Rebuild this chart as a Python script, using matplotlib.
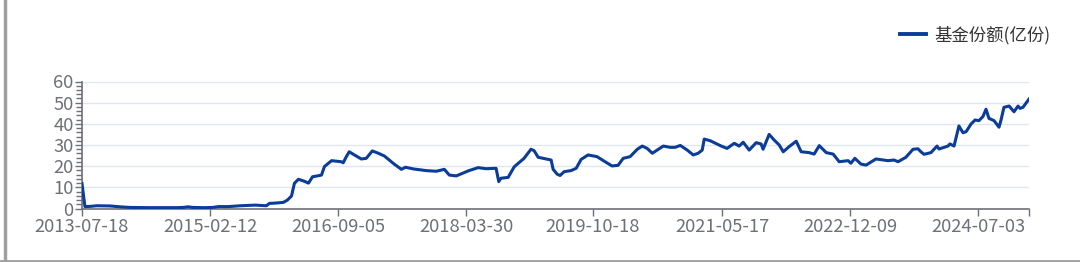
import matplotlib
matplotlib.use("Agg")
import matplotlib.pyplot as plt
import matplotlib.dates as mdates
from matplotlib.lines import Line2D
from matplotlib.ticker import MultipleLocator, FixedLocator
import pandas as pd

plt.rcParams['font.family'] = ['Noto Sans CJK SC', 'DejaVu Sans']

series_name = "基金份额(亿份)"

dates = [
    "2013-07-18", "2013-07-31", "2013-08-23", "2013-09-23", "2013-11-20", "2014-01-04",
    "2014-02-18", "2014-05-18", "2014-09-07", "2014-10-12", "2014-11-04", "2014-11-26",
    "2015-01-19", "2015-02-21", "2015-03-20", "2015-05-03", "2015-06-26", "2015-09-01",
    "2015-10-20", "2015-11-02", "2015-12-04", "2016-01-04", "2016-01-22", "2016-02-09",
    "2016-02-22", "2016-03-11", "2016-04-03", "2016-04-25", "2016-05-13", "2016-06-04",
    "2016-06-22", "2016-07-05", "2016-08-06", "2016-09-18", "2016-09-27", "2016-10-11",
    "2016-10-24", "2016-11-16", "2016-12-17", "2017-01-08", "2017-02-04", "2017-03-03",
    "2017-03-30", "2017-05-09", "2017-06-14", "2017-07-02", "2017-08-06", "2017-10-03",
    "2017-11-17", "2017-12-23", "2018-01-14", "2018-02-14", "2018-04-12", "2018-05-23",
    "2018-06-27", "2018-08-11", "2018-08-23", "2018-09-02", "2018-10-04", "2018-10-31",
    "2018-12-14", "2019-01-14", "2019-01-28", "2019-02-15", "2019-03-09", "2019-04-14",
    "2019-04-23", "2019-05-11", "2019-05-24", "2019-06-11", "2019-07-12", "2019-08-04",
    "2019-08-26", "2019-09-26", "2019-11-05", "2019-12-11", "2020-01-11", "2020-02-07",
    "2020-03-01", "2020-04-01", "2020-05-03", "2020-05-25", "2020-06-16", "2020-07-09",
    "2020-07-31", "2020-08-27", "2020-09-27", "2020-10-19", "2020-11-11", "2020-12-12",
    "2021-01-08", "2021-01-30", "2021-02-17", "2021-02-26", "2021-03-25", "2021-05-13",
    "2021-06-08", "2021-07-10", "2021-08-01", "2021-08-19", "2021-09-15", "2021-10-16",
    "2021-11-07", "2021-11-16", "2021-12-13", "2022-01-04", "2022-01-27", "2022-02-14",
    "2022-03-12", "2022-04-13", "2022-05-05", "2022-06-10", "2022-07-02", "2022-07-25",
    "2022-08-25", "2022-09-25", "2022-10-22", "2022-12-01", "2022-12-13", "2022-12-31",
    "2023-01-27", "2023-02-19", "2023-04-04", "2023-05-28", "2023-06-24", "2023-07-12",
    "2023-08-16", "2023-09-17", "2023-10-09", "2023-10-22", "2023-11-05", "2023-12-06",
    "2024-01-02", "2024-01-11", "2024-02-20", "2024-02-29", "2024-03-18", "2024-04-09",
    "2024-04-27", "2024-05-11", "2024-06-02", "2024-06-20", "2024-07-07", "2024-07-25",
    "2024-08-08", "2024-08-21", "2024-09-13", "2024-10-05", "2024-10-14", "2024-10-27",
    "2024-11-19", "2024-12-11", "2024-12-29", "2025-01-07", "2025-01-20", "2025-02-16",
]

shares = [
    11.8, 0.9, 1.0, 1.3, 1.2, 0.8,
    0.5, 0.4, 0.4, 0.5, 0.8, 0.5,
    0.4, 0.5, 0.9, 0.9, 1.3, 1.6,
    1.3, 2.4, 2.6, 2.9, 4.0, 5.9,
    11.9, 13.8, 13.0, 12.0, 15.0, 15.4,
    15.8, 19.8, 22.6, 22.1, 21.6, 24.5,
    26.8, 25.3, 23.4, 23.7, 27.2, 26.1,
    24.8, 21.3, 18.5, 19.5, 18.7, 17.9,
    17.6, 18.5, 15.8, 15.4, 17.9, 19.3,
    18.8, 19.0, 12.7, 14.3, 14.7, 19.7,
    23.7, 28.0, 27.3, 24.2, 23.7, 22.9,
    18.5, 16.2, 15.6, 17.4, 17.9, 19.0,
    23.2, 25.3, 24.5, 22.1, 20.1, 20.4,
    23.7, 24.5, 28.0, 29.5, 28.4, 26.1,
    27.6, 29.5, 28.9, 28.9, 29.8, 27.6,
    25.3, 26.1, 27.6, 32.8, 32.0, 29.5,
    28.4, 30.8, 29.5, 31.3, 27.6, 31.1,
    30.5, 28.0, 35.0, 32.4, 30.0, 26.8,
    29.2, 31.8, 26.8, 26.4, 25.7, 29.7,
    26.4, 25.7, 22.1, 22.6, 21.4, 23.7,
    21.0, 20.5, 23.4, 22.6, 22.9, 22.1,
    24.2, 28.0, 28.2, 26.8, 25.6, 26.4,
    29.5, 28.1, 29.5, 30.5, 29.5, 39.0,
    35.8, 36.3, 39.9, 41.8, 41.5, 43.4,
    46.9, 42.6, 41.5, 38.4, 41.8, 47.8,
    48.4, 45.7, 48.4, 47.3, 47.8, 51.7,
]

tick_labels = ["2013-07-18", "2015-02-12", "2016-09-05", "2018-03-30",
               "2019-10-18", "2021-05-17", "2022-12-09", "2024-07-03"]
y_ticks = [0, 10, 20, 30, 40, 50, 60]

x = pd.to_datetime(dates)
tick_dates = pd.to_datetime(tick_labels)

W, H = 1080, 262
fig = plt.figure(figsize=(W / 100, H / 100), dpi=100)
ax = fig.add_axes([82 / W, (H - 208.5) / H, (1029 - 82) / W, (208.5 - 81.5) / H])

line_color = "#0B3D98"
axis_color = "#6E7079"
grid_color = "#E0E6F1"

ax.plot(x, shares, color=line_color, lw=2.2, solid_joinstyle="round", zorder=3,
        label=series_name)

ax.set_xlim(x[0], x[-1])
ax.set_ylim(0, 60)

ax.set_yticks(y_ticks)
ax.yaxis.set_minor_locator(MultipleLocator(2))
ax.grid(axis="y", which="major", color=grid_color, lw=1.0, zorder=0)

ax.xaxis.set_major_locator(FixedLocator(mdates.date2num(tick_dates)))
ax.set_xticklabels(tick_labels)
ax.xaxis.set_minor_locator(FixedLocator([mdates.date2num(x[-1])]))

for s in ["top", "right"]:
    ax.spines[s].set_visible(False)
for s in ["left", "bottom"]:
    ax.spines[s].set_color(axis_color)
    ax.spines[s].set_linewidth(1.2)

ax.tick_params(axis="y", which="major", length=5, width=1, color=axis_color,
               labelcolor=axis_color, labelsize=13.2, pad=1)
ax.tick_params(axis="y", which="minor", length=4, width=1, color=axis_color)
ax.tick_params(axis="x", which="both", length=5, width=1, color=axis_color,
               labelcolor=axis_color, labelsize=13.2, pad=2)

leg = fig.legend(handles=[Line2D([0], [0], color=line_color, lw=2.8)],
                 labels=[series_name], loc="center left",
                 bbox_to_anchor=(900 / W, (H - 35) / H), frameon=False,
                 borderaxespad=0, borderpad=0,
                 handlelength=1.5, handletextpad=0.45, fontsize=12.5,
                 labelcolor="#333333")

# outer frame of the screenshot
fig.add_artist(Line2D([5 / W, 5 / W], [0, 1], color="#A0A0A0", lw=2.5))
fig.add_artist(Line2D([0, 1], [1.5 / H, 1.5 / H], color="#A0A0A0", lw=2.0))

fig.savefig("out.png", dpi=100)
